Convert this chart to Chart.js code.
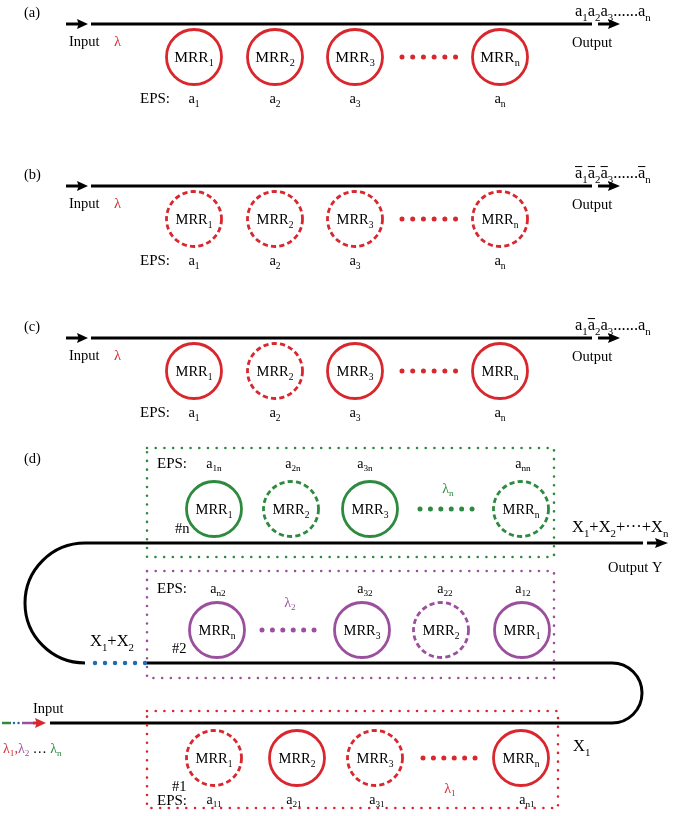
<!DOCTYPE html>
<html><head><meta charset="utf-8">
<script src="https://cdn.jsdelivr.net/npm/chart.js@4/dist/chart.umd.min.js"></script>
<style>html,body{margin:0;padding:0;background:#fff;}canvas{display:block;}</style>
</head><body>
<canvas id="c" width="675" height="816"></canvas>
<script>
const RED='#d9272e', GREEN='#2e8a3f', PURPLE='#9b509d', BLUE='#1f6cb2', BLACK='#000000';
const SERIF='"Liberation Serif","DejaVu Serif",serif';

// ---- panels (a)(b)(c)
const panelNames=['(a)','(b)','(c)'];
const panelOffset=[0,162,314];
const ringX=[194,275,355,500];
const ringSub=['1','2','3','n'];
const panelDashed=[[0,0,0,0],[1,1,1,1],[0,1,0,0]];
const outputLabels=['a_{1}a_{2}a_{3}......a_{n}','!{a}_{1}!{a}_{2}!{a}_{3}......!{a}_{n}','a_{1}!{a}_{2}a_{3}......a_{n}'];

// ---- panel (d)
const dRowY=[509,630,758];
const dRowColor=[GREEN,PURPLE,RED];
const dRowX=[[214,291,370,521],[217,362,441,522],[214,297,375,521]];
const dRowSub=[['1','2','3','n'],['n','3','2','1'],['1','2','3','n']];
const dRowDashed=[[0,1,0,1],[0,0,1,0],[1,0,1,0]];
const dEpsSub=[['1n','2n','3n','nn'],['n2','32','22','12'],['11','21','31','n1']];
const dEpsX=[[214,293,365,523],[218,365,445,523],[214,294,377,527]];
const dEpsY=[463,588,799];
const dLeader=[[420,475],[262,315],[423,477]];
const dBoxes=[[147,448,554,557],[147,571,554,678],[147,711,558,808]];
const dTags=['#n','#2','#1'];
const dTagPos=[[175,528],[172,648],[172,786]];
const dLambda=['λ_{n}','λ_{2}','λ_{1}'];
const dLambdaPos=[[448,488],[290,602],[450,788]];

function seg(points,color,width,dash,cap){
  return {type:'line',data:points,borderColor:color,borderWidth:width,borderDash:dash||[],
    borderCapStyle:cap||'butt',pointRadius:0,pointHoverRadius:0,showLine:true,fill:false,tension:0,clip:false};
}
const datasets=[];
panelOffset.forEach(off=>{
  datasets.push(seg([{x:91,y:24+off},{x:592,y:24+off}],BLACK,3));
  datasets.push(seg([{x:402,y:57+off},{x:457,y:57+off}],RED,5,[0.01,10.7],'round'));
});
dRowY.forEach((y,i)=>{
  datasets.push(seg([{x:dLeader[i][0],y:y},{x:dLeader[i][1],y:y}],dRowColor[i],5,[0.01,10.4],'round'));
  const b=dBoxes[i];
  datasets.push(seg([{x:b[0],y:b[1]},{x:b[2],y:b[1]},{x:b[2],y:b[3]},{x:b[0],y:b[3]},{x:b[0],y:b[1]}],dRowColor[i],2.6,[0.01,8.7],'round'));
});
datasets.push(seg([{x:85,y:543},{x:643,y:543}],BLACK,3));
datasets.push(seg([{x:147,y:663},{x:612,y:663}],BLACK,3));
datasets.push(seg([{x:50,y:723},{x:612,y:723}],BLACK,3));
datasets.push(seg([{x:95,y:663},{x:146,y:663}],BLUE,4.5,[0.01,10],'round'));
datasets.push(seg([{x:2,y:723},{x:11,y:723}],GREEN,2.5));
datasets.push(seg([{x:14,y:723},{x:19,y:723}],BLUE,2.5,[0.01,4.5],'round'));
datasets.push(seg([{x:22,y:723},{x:33,y:723}],PURPLE,2.5));

function parse(s){
  const out=[];const re=/_\{([^}]*)\}|!\{([^}]*)\}|([^_!]+)/g;let m;
  while((m=re.exec(s))){
    if(m[1]!==undefined)out.push({t:m[1],sub:true});
    else if(m[2]!==undefined)out.push({t:m[2],over:true});
    else out.push({t:m[3]});
  }
  return out;
}
function rich(ctx,x,y,str,size,color,align){
  const parts=parse(str);
  let w=0;
  parts.forEach(p=>{p.size=p.sub?size*0.66:size;ctx.font=p.size+'px '+SERIF;p.w=ctx.measureText(p.t).width;w+=p.w;});
  let cx=align==='center'?x-w/2:x;
  const base=y+size*0.33;
  ctx.fillStyle=color;ctx.strokeStyle=color;ctx.textAlign='left';ctx.textBaseline='alphabetic';
  parts.forEach(p=>{
    ctx.font=p.size+'px '+SERIF;
    ctx.fillText(p.t,cx,base+(p.sub?size*0.26:0));
    if(p.over){ctx.lineWidth=1;ctx.setLineDash([]);ctx.beginPath();const oy=base-size*0.72;ctx.moveTo(cx,oy);ctx.lineTo(cx+p.w,oy);ctx.stroke();}
    cx+=p.w;
  });
  return w;
}
function arrow(ctx,X,Y,x0,x1,y,color,headLen,headH){
  const px0=X(x0),px1=X(x1),py=Y(y);
  ctx.strokeStyle=color;ctx.fillStyle=color;ctx.lineWidth=3;ctx.setLineDash([]);ctx.lineCap='butt';
  ctx.beginPath();ctx.moveTo(px0,py);ctx.lineTo(px1-headLen+2,py);ctx.stroke();
  ctx.beginPath();ctx.moveTo(px1,py);ctx.lineTo(px1-headLen,py-headH/2);ctx.lineTo(px1-headLen*0.85,py);ctx.lineTo(px1-headLen,py+headH/2);ctx.closePath();ctx.fill();
}
function ring(ctx,X,Y,x,y,color,dashed,sub,size){
  const r=X(x+27.5)-X(x);
  ctx.strokeStyle=color;ctx.lineWidth=2.8;ctx.setLineDash(dashed?[5.2,3.2]:[]);ctx.lineCap='butt';
  ctx.beginPath();ctx.arc(X(x),Y(y),r,0,Math.PI*2);ctx.stroke();ctx.setLineDash([]);
  rich(ctx,X(x),Y(y),'MRR_{'+sub+'}',size,BLACK,'center');
}

const diagram={id:'diagram',afterDatasetsDraw(chart){
  const ctx=chart.ctx;const X=v=>chart.scales.x.getPixelForValue(v);const Y=v=>chart.scales.y.getPixelForValue(v);
  ctx.save();
  panelOffset.forEach((off,p)=>{
    rich(ctx,X(24),Y(12+off),panelNames[p],14.5,BLACK,'left');
    arrow(ctx,X,Y,66,88,24+off,BLACK,11,10);
    arrow(ctx,X,Y,598,620,24+off,BLACK,12,10);
    rich(ctx,X(69),Y(41+off),'Input',14.5,BLACK,'left');
    rich(ctx,X(114),Y(41+off),'λ',14.5,RED,'left');
    rich(ctx,X(572),Y(42+off),'Output',14.5,BLACK,'left');
    rich(ctx,X(575),Y(11+off),outputLabels[p],16.5,BLACK,'left');
    rich(ctx,X(140),Y(98+off),'EPS:',15,BLACK,'left');
    ringX.forEach((x,i)=>{
      ring(ctx,X,Y,x,57+off,RED,panelDashed[p][i],ringSub[i],p===0?15.5:14.5);
      rich(ctx,X(x),Y(98+off),'a_{'+ringSub[i]+'}',14.5,BLACK,'center');
    });
  });
  // panel d
  rich(ctx,X(24),Y(458),'(d)',14.5,BLACK,'left');
  ctx.strokeStyle=BLACK;ctx.lineWidth=3;ctx.setLineDash([]);
  ctx.beginPath();ctx.arc(X(85),Y(603),X(145)-X(85),-Math.PI/2,Math.PI/2,true);ctx.stroke();
  ctx.beginPath();ctx.arc(X(612),Y(693),X(642)-X(612),-Math.PI/2,Math.PI/2,false);ctx.stroke();
  arrow(ctx,X,Y,647,668,543,BLACK,13,10);
  arrow(ctx,X,Y,33,46,723,RED,11,10);
  dRowY.forEach((y,i)=>{
    rich(ctx,X(157),Y(i===2?800:dEpsY[i]),'EPS:',15,BLACK,'left');
    dRowX[i].forEach((x,j)=>{
      ring(ctx,X,Y,x,y,dRowColor[i],dRowDashed[i][j],dRowSub[i][j],14.5);
      rich(ctx,X(dEpsX[i][j]),Y(dEpsY[i]),'a_{'+dEpsSub[i][j]+'}',14,BLACK,'center');
    });
    rich(ctx,X(dTagPos[i][0]),Y(dTagPos[i][1]),dTags[i],14.5,BLACK,'left');
    rich(ctx,X(dLambdaPos[i][0]),Y(dLambdaPos[i][1]),dLambda[i],14,dRowColor[i],'center');
  });
  rich(ctx,X(572),Y(527),'X_{1}+X_{2}+···+X_{n}',16.5,BLACK,'left');
  rich(ctx,X(608),Y(567),'Output Y',14.5,BLACK,'left');
  rich(ctx,X(90),Y(641),'X_{1}+X_{2}',16.5,BLACK,'left');
  rich(ctx,X(573),Y(746),'X_{1}',16.5,BLACK,'left');
  rich(ctx,X(33),Y(708),'Input',14.5,BLACK,'left');
  let lx=X(3);const ly=Y(748);
  const lam=[['λ_{1}',RED],[',',RED],['λ_{2}',PURPLE],[' … ',BLACK],['λ_{n}',GREEN]];
  lam.forEach(([t,c])=>{ lx+=rich(ctx,lx,ly,t,14,c,'left'); });
  ctx.restore();
}};

new Chart(document.getElementById('c'),{
  type:'scatter',
  data:{datasets},
  options:{
    responsive:false,animation:false,events:[],
    layout:{padding:0},
    plugins:{legend:{display:false},tooltip:{enabled:false}},
    scales:{x:{type:'linear',min:0,max:675,display:false},y:{type:'linear',min:0,max:816,reverse:true,display:false}}
  },
  plugins:[diagram]
});
</script>
</body></html>
